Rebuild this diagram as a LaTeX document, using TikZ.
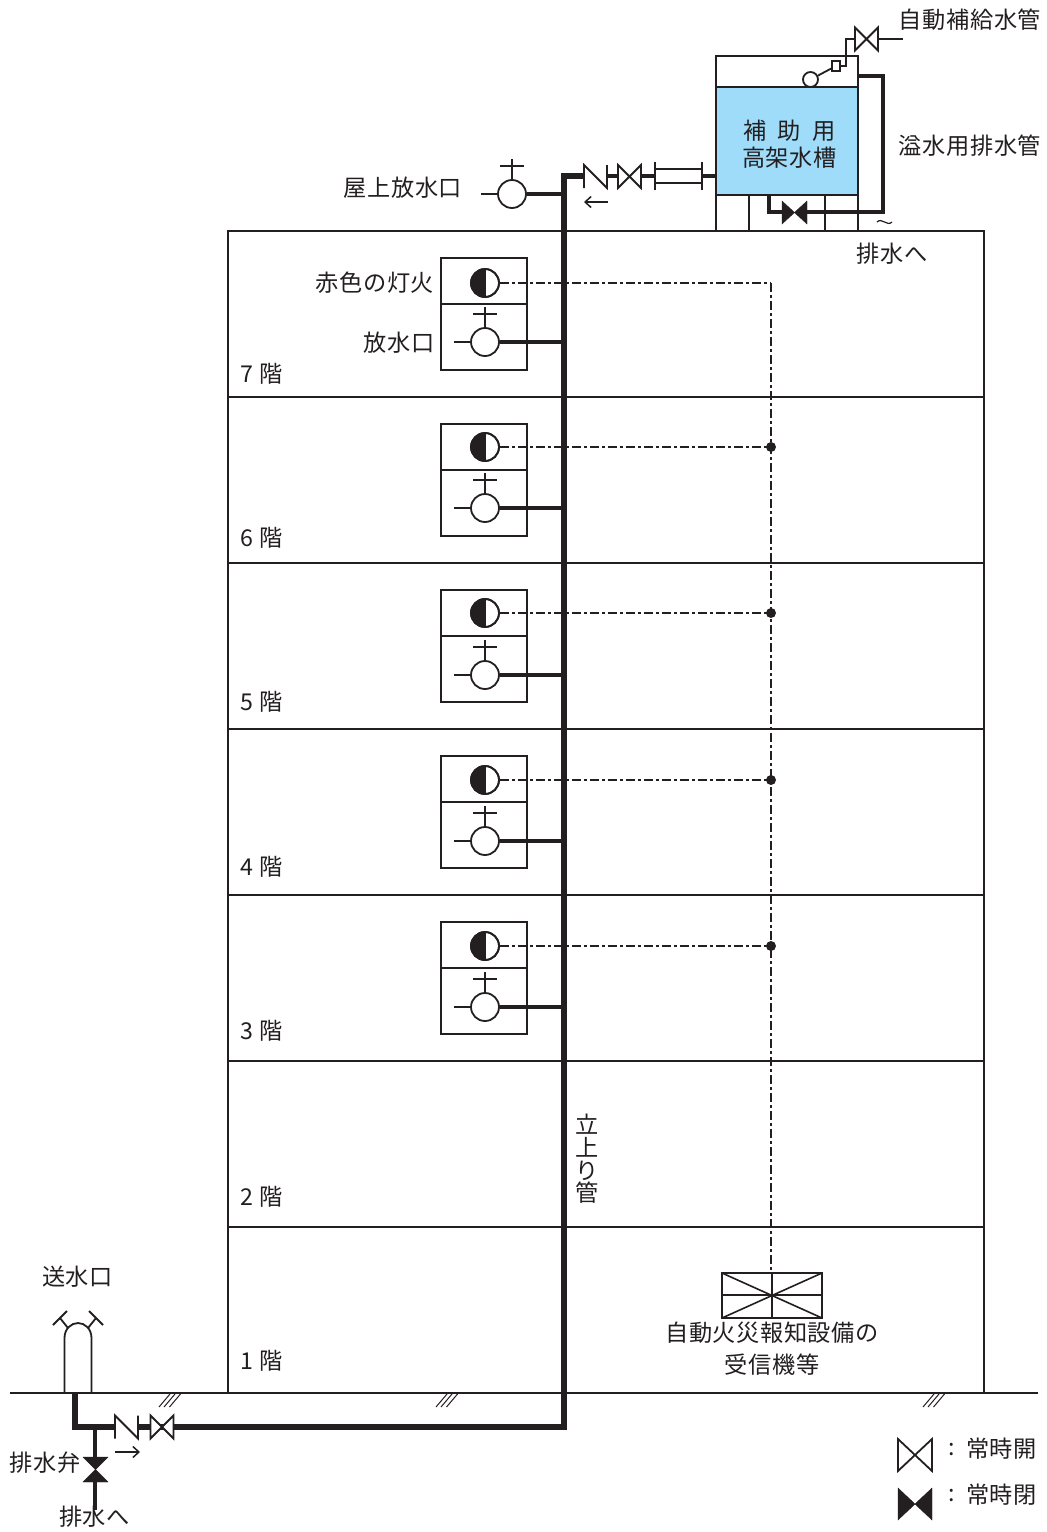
\documentclass[tikz,border=0pt]{standalone}
\usepackage{fontspec}
\setmainfont{Noto Sans CJK JP}
\newfontfamily\lblfont[LetterSpace=2.5]{Noto Sans CJK JP}
\definecolor{ink}{HTML}{231F20}
\definecolor{tankblue}{HTML}{9FDCF9}
\usetikzlibrary{arrows.meta}
\tikzset{
  x=1pt,y=-1pt,
  wall/.style={draw=ink,line width=2pt},
  thin line/.style={draw=ink,line width=1.8pt},
  pipe/.style={draw=ink,line width=5.4pt,line join=miter},
  branch/.style={draw=ink,line width=4.8pt},
  midpipe/.style={draw=ink,line width=3.8pt,line join=miter},
  supply/.style={draw=ink,line width=2.8pt,line join=miter},
  signal/.style={draw=ink,line width=2.6pt,dash pattern=on 9pt off 3pt on 3pt off 3pt},
  lbl/.style={text=ink,inner sep=0pt,font=\fontsize{23.2}{25}\selectfont\lblfont,align=center},
  round sym/.style={circle,draw=ink,line width=1.8pt,fill=white,minimum size=28pt,inner sep=0pt},
  jdot/.style={circle,fill=ink,minimum size=10pt,inner sep=0pt},
  small arrow/.style={draw=ink,line width=1.5pt,-{Straight Barb[length=6pt,width=11pt]}},
  gatevalve/.pic={\draw[thin line,fill=white,line join=miter] (-11.5,-11.5)--(11.5,11.5)--(11.5,-11.5)--(-11.5,11.5)--cycle;},
  checkvalve/.pic={\fill[white] (-11.5,-11.5) rectangle (11.5,11.5);
     \draw[thin line,line join=miter] (-11.5,11.5)--(-11.5,-11.5)--(11.5,11.5)--(11.5,-11.5);},
  hydrant/.pic={\draw[thin line] (0,-14)--(0,-35) (-12,-28)--(12,-28) (-14,0)--(-31,0);},
  hatch/.pic={\draw[draw=ink,line width=1pt] (0,13)--(11,0) (5,13)--(16,0) (10.5,13)--(21.5,0);},
}
\begin{document}
\begin{tikzpicture}
\useasboundingbox (0,0) rectangle (1047,1532);
\fill[white] (0,0) rectangle (1047,1532);

% building
\draw[wall] (228,1393) -- (228,231) -- (984,231) -- (984,1393);
\foreach \yy in {397,563,729,895,1061,1227} \draw[wall] (228,\yy) -- (984,\yy);
\coordinate (gl) at (10,1393); \coordinate (gr) at (1038,1393);
\draw[wall] (gl) -- (gr);
\path (159,1394) pic {hatch} (436,1394) pic {hatch} (923,1394) pic {hatch};

% tank
\fill[tankblue] (716,87) rectangle (858,195);
\draw[wall] (716,231) -- (716,56) -- (858,56) -- (858,231);
\draw[wall] (716,87) -- (858,87) (716,195) -- (858,195) (749,195) -- (749,231) (825,195) -- (825,231);
\node[lbl] (tanka) at (789.5,131) {補\hspace{11pt}助\hspace{11pt}用};
\node[lbl] (tankb) at (789.5,158) {高架水槽};

% named pipe points
\coordinate (risertop) at (564,176);
\coordinate (riserbot) at (564,1427);
\coordinate (sfoot) at (75,1427);
\coordinate (stop) at (75,1393);
\coordinate (tankout) at (716,176);
\coordinate (roofjoin) at (564,194);

% floor units
\foreach \n/\ta/\mi/\bo/\la/\ou in {7/258/304/370/283/342,6/424/470/536/447/508,5/590/636/702/613/675,4/756/802/868/780/841,3/922/968/1034/946/1007}{
  \draw[wall] (441,\ta) rectangle (527,\bo) (441,\mi) -- (527,\mi);
  \node[round sym] (lamp\n) at (485,\la) {};
  \fill[ink] (485,\la-14) arc[start angle=-90,end angle=-270,radius=14] -- cycle;
  \node[round sym,fill=none] at (485,\la) {};
  \draw[draw=ink,line width=1.4pt] (485,\la-14) -- (485,\la+14);
  \node[round sym] (out\n) at (485,\ou) {};
  \path (485,\ou) pic {hydrant};
  \coordinate (sig\n) at (771,\la);
  \coordinate (rj\n) at (564,\ou);
  \draw[signal] (lamp\n.east) -- (sig\n);
  \draw[branch] (out\n.east) -- (rj\n);
}
\foreach \n in {6,5,4,3} \node[jdot] at (sig\n) {};

% riser
\draw[pipe] (stop) -- (sfoot) -- (riserbot) -- (risertop) -- (583,176);

% roof outlet
\node[round sym] (roofout) at (512,194) {};
\path (512,194) pic {hydrant};
\draw[branch] (roofout.east) -- (roofjoin);

% top valves and flange
\draw[branch] (607,176) -- (618,176) (641,176) -- (655,176) (702,176) -- (tankout);
\path (595.5,176.5) pic {checkvalve} (629.5,176.5) pic {gatevalve};
\draw[thin line] (655,162) -- (655,190) (702,162) -- (702,190) (655,169) -- (702,169) (655,183) -- (702,183);
\coordinate (ra1) at (608,202); \coordinate (ra2) at (584,202);
\draw[small arrow] (ra1) -- (ra2);

% tank drain and overflow
\draw[midpipe] (769,195) -- (769,212) -- (785,212);
\draw[midpipe] (858,76) -- (883,76) -- (883,212) -- (805,212);
\draw[fill=ink,draw=ink,line join=miter] (782,201)--(807,224)--(807,201)--(782,224)--cycle;
\coordinate (t1) at (877,222); \coordinate (t2) at (892,222);
\draw[draw=ink,line width=1.2pt] (t1) .. controls (882,217) and (887,227) .. (t2);
\node[lbl] (drainA) at (892,254) {排水へ};

% float and supply
\node[circle,draw=ink,line width=1.8pt,fill=white,minimum size=15pt,inner sep=0pt] (float) at (810.5,79.5) {};
\node[rectangle,draw=ink,line width=1.5pt,fill=white,minimum width=8pt,minimum height=10pt,inner sep=0pt] (floatbox) at (836,66) {};
\draw[thin line] (float) -- (floatbox);
\coordinate (sv) at (855,39); \coordinate (sc) at (846,39); \coordinate (sb) at (846,66);
\draw[supply] (floatbox.east) -- (sb) -- (sc) -- (sv);
\path (866.5,39) pic {gatevalve};
\coordinate (send) at (903,39);
\draw[supply] (878,39) -- (send);
\node[lbl] (l1) at (970,20) {自動補給水管};
\node[lbl] (l2) at (970,146) {溢水用排水管};
\node[lbl] (l3) at (403,188) {屋上放水口};
\node[lbl] (l4) at (375,283) {赤色の灯火};
\node[lbl] (l5) at (399,343) {放水口};

% receiver
\coordinate (sigbot) at (771,1273);
\draw[signal] (sig7) -- (sigbot);
\draw[wall,line width=2.2pt] (722,1273) rectangle (822,1318);
\draw[wall,line width=1.6pt] (722,1273) -- (822,1318) (722,1318) -- (822,1273) (772,1273) -- (772,1318);
\draw[wall,line width=1.5pt] (722,1295) -- (822,1295);
\node[lbl] (r1) at (772,1333) {自動火災報知設備の};
\node[lbl] (r2) at (772,1365) {受信機等};

% floor labels
\foreach \n/\yy in {7/374,6/538,5/702,4/867,3/1031,2/1197,1/1361}
  \node[lbl] (fl\n) at (262,\yy) {\n\hspace{6pt}階};
\node[lbl,font=\fontsize{23.2}{22.7}\selectfont\lblfont] (riserlbl) at (587,1159) {立\\上\\り\\管};

% siamese connection
\node[lbl] (sq) at (77.5,1277) {送水口};
\draw[thin line] (64.5,1393) -- (64.5,1338) .. controls (64.5,1329) and (71,1323) .. (78,1323) .. controls (85,1323) and (91.5,1329) .. (91.5,1338) -- (91.5,1393);
\draw[thin line] (68,1328) -- (60,1318) (53,1325) -- (67,1311) (88,1328) -- (96,1318) (89,1311) -- (103,1325);

% lower valves
\coordinate (dtop) at (95,1427); \coordinate (dv1) at (95,1457); \coordinate (dv2) at (95,1482); \coordinate (dend) at (95,1510);
\draw[midpipe] (dtop) -- (dv1) (dv2) -- (dend);
\draw[fill=ink,draw=ink,line join=miter] (83,1457)--(108,1457)--(83,1482)--(108,1482)--cycle;
\path (126.5,1427) pic {checkvalve} (162,1427) pic {gatevalve};
\coordinate (ba1) at (115,1452); \coordinate (ba2) at (140,1452);
\draw[small arrow] (ba1) -- (ba2);
\node[lbl] (l6) at (45,1463) {排水弁};
\node[lbl] (l7) at (94.5,1517) {排水へ};

% legend
\draw[thin line,line join=miter] (898,1439)--(932,1471)--(932,1439)--(898,1471)--cycle;
\draw[fill=ink,draw=ink,line join=miter] (898,1488)--(932,1520)--(932,1488)--(898,1520)--cycle;
\node[lbl] (c1) at (952,1449) {:};
\node[lbl] (c2) at (952,1495) {:};
\node[lbl] (k1) at (1001.5,1449) {常時開};
\node[lbl] (k2) at (1001.5,1495) {常時閉};
\end{tikzpicture}
\end{document}
